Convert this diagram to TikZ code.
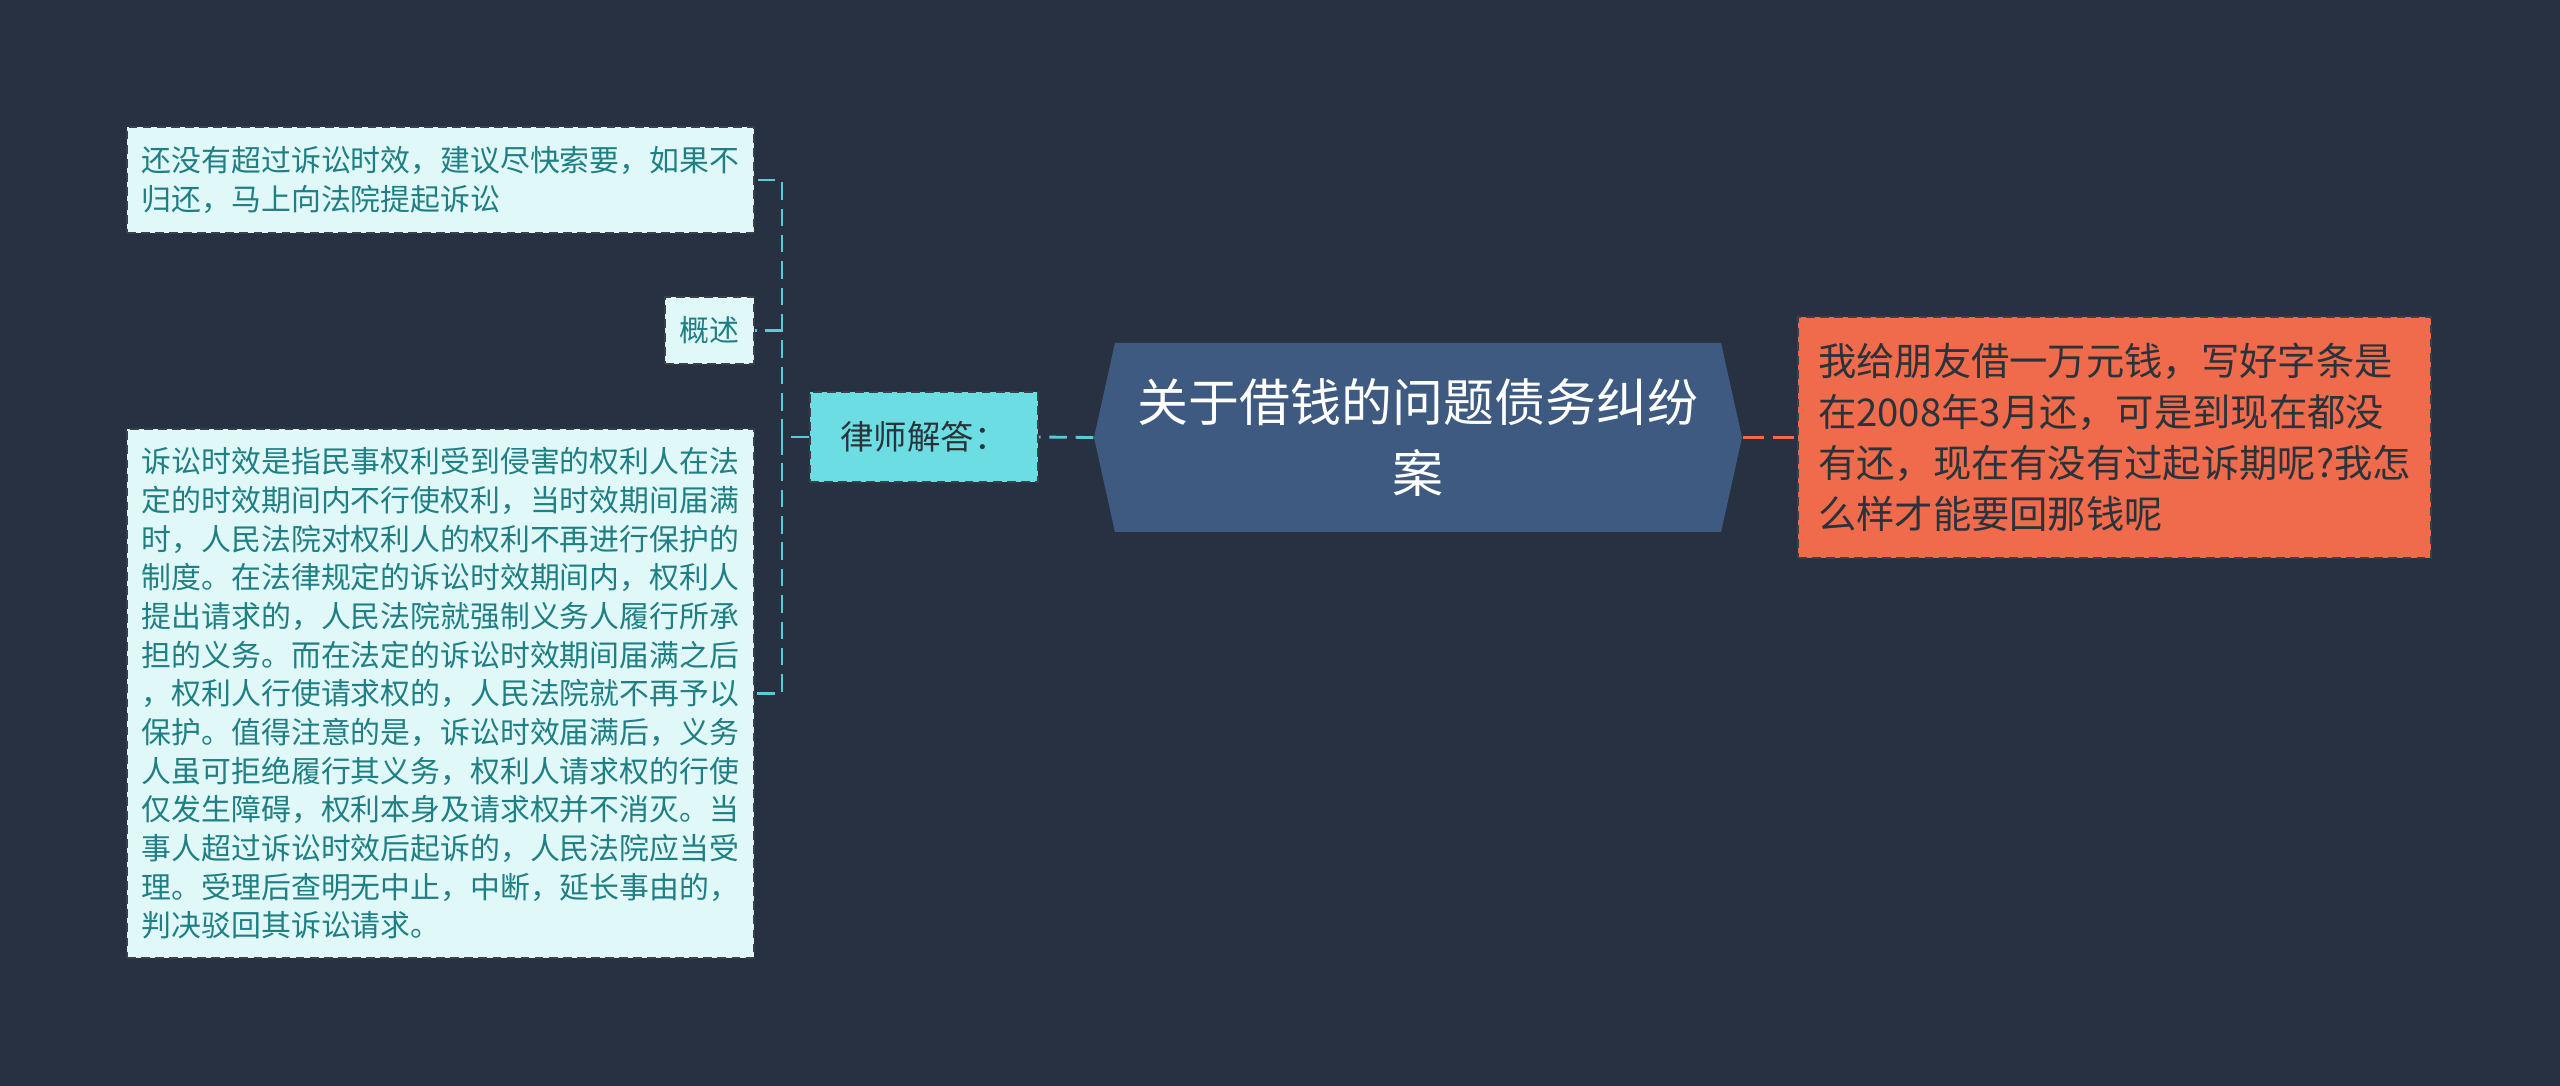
\documentclass[tikz,border=0pt]{standalone}
\usepackage{fontspec}
\newfontfamily\cjk{Noto Sans CJK SC}
\usetikzlibrary{shapes.symbols}

\definecolor{bgcol}{HTML}{283141}
\definecolor{leaffill}{HTML}{E0F8F8}
\definecolor{leaftext}{HTML}{1F7F84}
\definecolor{ansfill}{HTML}{6CDDE2}
\definecolor{rootfill}{HTML}{3E5A80}
\definecolor{askfill}{HTML}{EF6B4B}
\definecolor{darktext}{HTML}{2B333A}
\definecolor{boxline}{HTML}{3A4048}
\definecolor{cyanline}{HTML}{5BC9D6}

\begin{document}
\begin{tikzpicture}[
    leaf/.style={rectangle, fill=leaffill, draw=boxline, line width=0.6pt,
        dash pattern=on 2.5pt off 1.5pt, text=leaftext, align=left,
        font=\cjk\fontsize{8.5}{11}\selectfont, inner sep=0pt},
    answer/.style={rectangle, fill=ansfill, draw=boxline, line width=0.6pt,
        dash pattern=on 2.5pt off 1.5pt, text=darktext,
        font=\cjk\fontsize{9.5}{12}\selectfont, inner sep=0pt},
    question/.style={rectangle, fill=askfill, draw=boxline, line width=0.6pt,
        dash pattern=on 2.5pt off 1.5pt, text=darktext, align=left,
        font=\cjk\fontsize{10.9}{14.5}\selectfont, inner sep=0pt},
    topic/.style={signal, signal to=west and east, signal pointer angle=155,
        fill=rootfill, text=white, align=center, inner sep=0pt,
        font=\cjk\fontsize{14.5}{20.4}\selectfont},
    cyanlink/.style={cyanline, line width=0.8pt, dash pattern=on 5pt off 2.5pt},
    redlink/.style={askfill, line width=0.8pt, dash pattern=on 6pt off 2.5pt}
]
    \fill[bgcol] (0,0) rectangle (25.6,-10.86);
    \useasboundingbox (0,0) rectangle (25.6,-10.86);

    % centre and question
    \node[topic, minimum width=6.48cm, minimum height=1.89cm] (root) at (14.18,-4.375)
        {关于借钱的问题债务纠纷\\案};
    \node[question, minimum width=6.33cm, minimum height=2.41cm] (ask) at (21.145,-4.375)
        {我给朋友借一万元钱，写好字条是\\在2008年3月还，可是到现在都没\\有还，现在有没有过起诉期呢?我怎\\么样才能要回那钱呢};

    % answer branch
    \node[answer, minimum width=2.28cm, minimum height=0.90cm] (ans) at (9.24,-4.37) {律师解答：};
    \node[leaf, minimum width=6.27cm, minimum height=1.06cm] (tip) at (4.405,-1.80)
        {还没有超过诉讼时效，建议尽快索要，如果不\\归还，马上向法院提起诉讼};
    \node[leaf, minimum width=0.89cm, minimum height=0.67cm] (sum) at (7.095,-3.305) {概述};
    \node[leaf, minimum width=6.27cm, minimum height=5.29cm] (expl) at (4.405,-6.935)
        {诉讼时效是指民事权利受到侵害的权利人在法\\
         定的时效期间内不行使权利，当时效期间届满\\
         时，人民法院对权利人的权利不再进行保护的\\
         制度。在法律规定的诉讼时效期间内，权利人\\
         提出请求的，人民法院就强制义务人履行所承\\
         担的义务。而在法定的诉讼时效期间届满之后\\
         ，权利人行使请求权的，人民法院就不再予以\\
         保护。值得注意的是，诉讼时效届满后，义务\\
         人虽可拒绝履行其义务，权利人请求权的行使\\
         仅发生障碍，权利本身及请求权并不消灭。当\\
         事人超过诉讼时效后起诉的，人民法院应当受\\
         理。受理后查明无中止，中断，延长事由的，\\
         判决驳回其诉讼请求。};

    % connectors
    \draw[cyanlink] (root.west) -- (ans.east);
    \draw[redlink] (root.east) -- (ask.west);
    \coordinate (fork) at (7.82,-4.37);
    \draw[cyanlink] (ans.west) -- (fork);
    \foreach \n in {tip,sum,expl}
        \draw[cyanlink] (fork) |- (\n.east);
\end{tikzpicture}
\end{document}
